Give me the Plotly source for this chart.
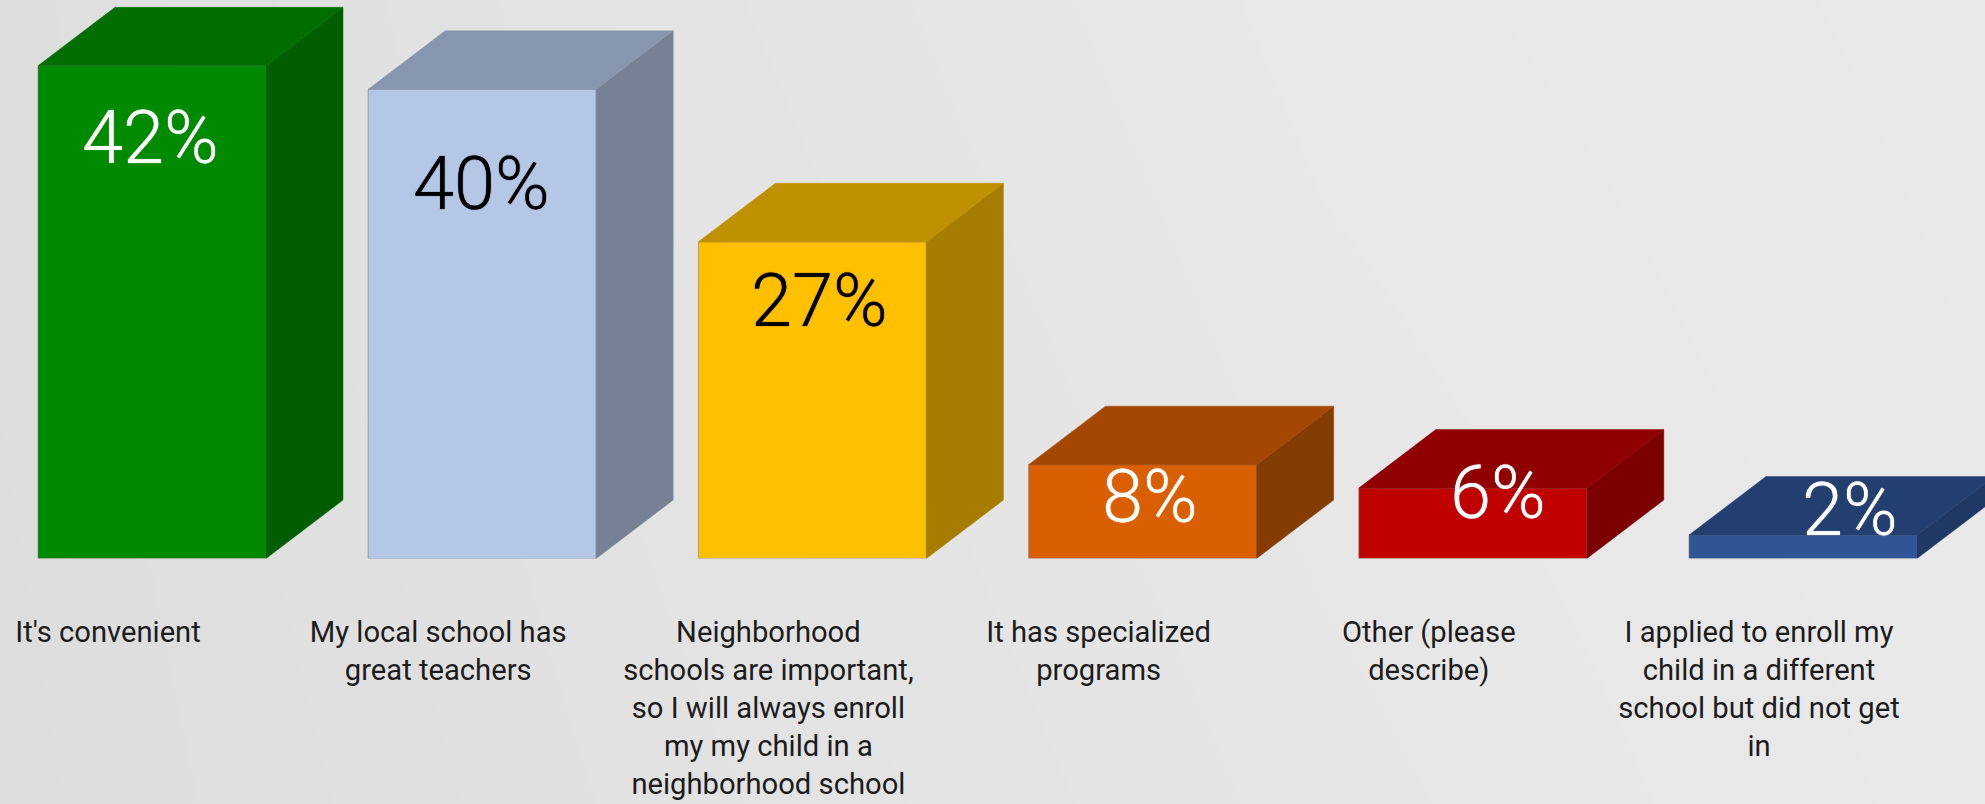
import plotly.graph_objects as go

# ---- data ----
categories = [
    "It's convenient",
    "My local school has<br>great teachers",
    "Neighborhood<br>schools are important,<br>so I will always enroll<br>my my child in a<br>neighborhood school",
    "It has specialized<br>programs",
    "Other (please<br>describe)",
    "I applied to enroll my<br>child in a different<br>school but did not get<br>in",
]
values = [42, 40, 27, 8, 6, 2]
value_labels = ["42%", "40%", "27%", "8%", "6%", "2%"]

# ---- styles ----
front_colors = ["#008A00", "#B4C7E7", "#FFC000", "#D95F02", "#C00000", "#2F5597"]
top_colors = ["#006E00", "#8796AE", "#BF9000", "#A34702", "#900000", "#233F70"]
side_colors = ["#005E00", "#768195", "#A67D00", "#853C02", "#7D0000", "#203864"]
label_colors = ["white", "black", "black", "white", "white", "white"]
label_xshift = [-2, -1, 7, 7, 25, 47]      # px from bar centre
label_yshift = [-72, -93.7, -59, -31.6, -4.4, 25.8]  # px from bar top (negative = down)

W, H = 1985, 804
BASE_PX = 558.5
PX_PER_UNIT_Y = 11.73
PX_PER_CAT = 330.2
X0_PX = 152
BAR_W = 228 / PX_PER_CAT
DX = 77 / PX_PER_CAT
DY = 58.5 / PX_PER_UNIT_Y

bg_x = [0, 1, 2, 3]
bg_y = [0, 1]
bg_z = [[221, 226, 230, 233], [222, 228, 232, 234]]

idx = list(range(len(values)))
fig = go.Figure()

# backdrop
fig.add_trace(go.Heatmap(
    x=bg_x, y=bg_y, z=bg_z, zsmooth="best", showscale=False, hoverinfo="skip",
    zmin=0, zmax=255, colorscale=[[0, "rgb(0,0,0)"], [1, "rgb(255,255,255)"]],
    xaxis="x", yaxis="y",
))

# front faces
fig.add_trace(go.Bar(
    x=idx, y=values, width=BAR_W, marker=dict(color=front_colors, line=dict(color="rgba(120,120,120,0.6)", width=1)),
    xaxis="x2", yaxis="y2", showlegend=False, hoverinfo="skip",
))

# side and top faces, derived from the values
for i, v in enumerate(values):
    r = i + BAR_W / 2
    l = i - BAR_W / 2
    fig.add_trace(go.Scatter(
        x=[r, r + DX, r + DX, r, r], y=[0, DY, v + DY, v, 0],
        fill="toself", fillcolor=side_colors[i], mode="lines",
        line=dict(color=side_colors[i], width=0.5), xaxis="x2", yaxis="y2",
        showlegend=False, hoverinfo="skip",
    ))
    fig.add_trace(go.Scatter(
        x=[l, r, r + DX, l + DX, l], y=[v, v, v + DY, v + DY, v],
        fill="toself", fillcolor=top_colors[i], mode="lines",
        line=dict(color=top_colors[i], width=0.5), xaxis="x2", yaxis="y2",
        showlegend=False, hoverinfo="skip",
    ))

annotations = [
    dict(x=i, y=v, xref="x2", yref="y2", text=value_labels[i], showarrow=False,
         xshift=label_xshift[i], yshift=label_yshift[i], xanchor="center", yanchor="middle",
         font=dict(family="Roboto", size=74, color=label_colors[i], weight=300,
                   shadow=f"0 0 1px {label_colors[i]}"))
    for i, v in enumerate(values)
]

fig.update_layout(
    width=W, height=H, margin=dict(l=0, r=0, t=0, b=0, autoexpand=False), autosize=False,
    paper_bgcolor="#E4E4E4", plot_bgcolor="rgba(0,0,0,0)",
    showlegend=False, annotations=annotations,
    xaxis=dict(range=[0, 3], domain=[0, 1], visible=False, fixedrange=True, automargin=False),
    yaxis=dict(range=[0, 1], domain=[0, 1], visible=False, fixedrange=True, automargin=False),
    xaxis2=dict(
        anchor="y2", domain=[0, 1], fixedrange=True, automargin=False,
        range=[-X0_PX / PX_PER_CAT, (W - X0_PX) / PX_PER_CAT],
        tickmode="array", tickvals=[i - 44 / PX_PER_CAT for i in idx], ticktext=categories,
        tickangle=0, showgrid=False, zeroline=False, showline=False, ticks="",
        ticklabelstandoff=53,
        tickfont=dict(family="Roboto", size=29.2, color="#1c1c1c"),
    ),
    yaxis2=dict(
        anchor="x2", domain=[(H - BASE_PX) / H, 1], fixedrange=True, automargin=False,
        range=[0, BASE_PX / PX_PER_UNIT_Y], visible=False,
    ),
)

fig.write_html(
    "out.html",
    config={"displayModeBar": False},
    post_script="document.body.style.margin='0';document.documentElement.style.overflow='hidden';",
)
